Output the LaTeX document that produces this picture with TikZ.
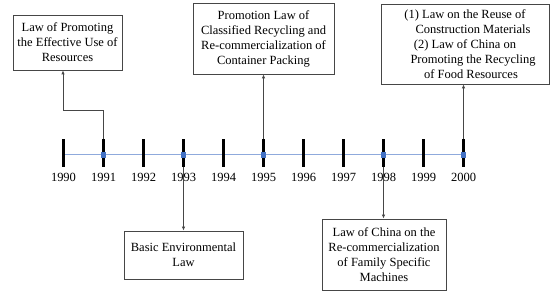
\documentclass[tikz,border=0pt]{standalone}
\usepackage{fontspec}
\setmainfont{Liberation Serif}
\usepackage{xcolor}
\usetikzlibrary{positioning, arrows.meta, calc}
\definecolor{cAxis}{RGB}{143,170,220}
\definecolor{cMark}{RGB}{68,114,196}
\definecolor{cLine}{RGB}{70,70,70}

\tikzset{
    law/.style={draw=cLine, line width=0.8pt, inner sep=2pt, align=center,
        font=\fontsize{12.5}{15}\selectfont},
    yeartick/.style={fill=black, inner sep=0pt, minimum width=3pt, minimum height=28pt},
    yearlabel/.style={anchor=base, inner sep=0pt, font=\fontsize{12.5}{15}\selectfont},
    conn/.style={draw=cLine, line width=0.8pt, -{Latex[length=4pt, width=3.5pt]}},
    yearmark/.style={fill=cMark, inner sep=0pt, minimum size=5.5pt}
}

\begin{document}
\begin{tikzpicture}[x=1pt, y=1pt]
    \useasboundingbox (0,0) rectangle (550,294);

    % Time axis
    \coordinate (axisL) at (63.5,139);
    \coordinate (axisR) at (463.5,139);
    \draw[cAxis, line width=1pt] (axisL) -- (axisR);

    % Year ticks and labels
    \foreach \yr [count=\i from 0] in {1990,...,2000} {
        \node[yeartick] (t\yr) at ({63.5+40*\i},141) {};
        \node[yearlabel] (y\yr) at ({63.5+40*\i},112) {\yr};
    }

    % Markers on the years with a law
    \foreach \yr in {1991,1993,1995,1998,2000}
        \node[yearmark] (m\yr) at (t\yr |- axisL) {};

    % Law boxes above the axis
    \node[law, minimum width=109pt, minimum height=55pt] (b1991) at (67.5,251.5)
        {Law of Promoting\\the Effective Use of\\Resources};
    \node[law, minimum width=141pt, minimum height=71pt] (b1995) at (263.5,255.5)
        {Promotion Law of\\Classified Recycling and\\Re-commercialization of\\Container Packing};
    \node[law, minimum width=168pt, minimum height=80pt] (b2000) at (465,250)
        {(1) Law on the Reuse of\\ \hspace*{16pt}Construction Materials\\ (2) Law of China on\\
        \hspace*{16pt}Promoting the Recycling\\ \hspace*{12pt}of Food Resources};

    % Law boxes below the axis
    \node[law, minimum width=119pt, minimum height=48pt] (b1993) at (183.5,39)
        {Basic Environmental\\Law};
    \node[law, minimum width=124pt, minimum height=71pt] (b1998) at (384,39.5)
        {Law of China on the\\Re-commercialization\\of Family Specific\\Machines};

    % Connectors
    \coordinate (bend1991) at (63,184);
    \draw[conn] (t1991.north) |- (bend1991) -- (b1991.south -| bend1991);
    \draw[conn] (t1995.north) -- (b1995.south);
    \draw[conn] (t2000.north) -- (b2000.south -| t2000);
    \draw[conn] (t1993.south) -- (b1993.north);
    \draw[conn] (t1998.south) -- (b1998.north -| t1998);
\end{tikzpicture}
\end{document}
